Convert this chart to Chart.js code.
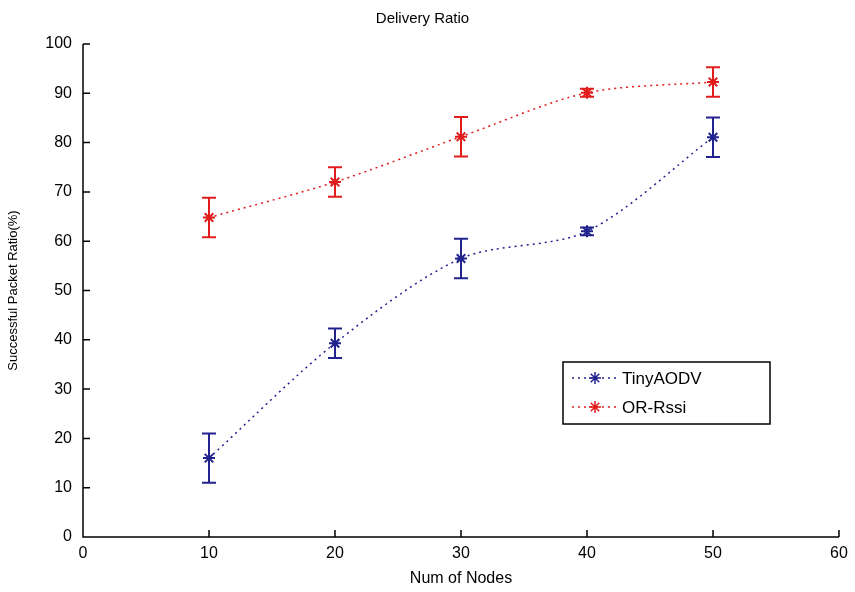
<!DOCTYPE html>
<html>
<head>
<meta charset="utf-8">
<script src="https://cdn.jsdelivr.net/npm/chart.js@4"></script>
<style>
  html, body { margin: 0; padding: 0; background: #fff; }
  #wrap { width: 855px; height: 592px; }
</style>
</head>
<body>
<div id="wrap"><canvas id="chart" width="855" height="592"></canvas></div>
<script>
const nodes = [10, 20, 30, 40, 50];
const tinyAodv = [16, 39.3, 56.5, 62, 81.1];
const tinyAodvErr = [5, 3, 4, 0.8, 4];
const orRssi = [64.8, 72, 81.2, 90.1, 92.3];
const orRssiErr = [4, 3, 4, 0.8, 3];
const yTicks = [0, 10, 20, 30, 40, 50, 60, 70, 80, 90, 100];

const BLUE = "#23238f";
const RED = "#e01c1c";
const FONT = "'Liberation Sans', Arial, sans-serif";

// vertical error bars with caps, drawn from each dataset's errors array
const errorBars = {
  id: "errorBars",
  afterDatasetsDraw(chart) {
    const { ctx, scales } = chart;
    chart.data.datasets.forEach((ds) => {
      ctx.save();
      ctx.strokeStyle = ds.errColor;
      ctx.lineWidth = 2;
      ds.data.forEach((pt, i) => {
        const x = scales.x.getPixelForValue(pt.x);
        const top = scales.y.getPixelForValue(pt.y + ds.errors[i]);
        const bot = scales.y.getPixelForValue(pt.y - ds.errors[i]);
        ctx.beginPath();
        ctx.moveTo(x, top); ctx.lineTo(x, bot);
        ctx.moveTo(x - 7, top); ctx.lineTo(x + 7, top);
        ctx.moveTo(x - 7, bot); ctx.lineTo(x + 7, bot);
        ctx.stroke();
      });
      ctx.restore();
    });
  },
};

// axis lines with inward ticks, left and bottom only
const axesBox = {
  id: "axesBox",
  afterDraw(chart) {
    const { ctx, chartArea: a, scales } = chart;
    ctx.save();
    ctx.strokeStyle = "#000";
    ctx.lineWidth = 1.5;
    ctx.beginPath();
    ctx.moveTo(a.left, a.top); ctx.lineTo(a.left, a.bottom); ctx.lineTo(a.right, a.bottom);
    scales.x.ticks.forEach((t) => {
      const x = scales.x.getPixelForValue(t.value);
      ctx.moveTo(x, a.bottom); ctx.lineTo(x, a.bottom - 7);
    });
    scales.y.ticks.forEach((t) => {
      const y = scales.y.getPixelForValue(t.value);
      ctx.moveTo(a.left, y); ctx.lineTo(a.left + 7, y);
    });
    ctx.stroke();
    ctx.restore();
  },
};

// boxed legend inside the plot area
const boxLegend = {
  id: "boxLegend",
  afterDraw(chart) {
    const { ctx, chartArea: a } = chart;
    const w = 207, h = 62;
    const left = a.right - 69 - w, top = a.top + 318;
    ctx.save();
    ctx.fillStyle = "#fff";
    ctx.fillRect(left, top, w, h);
    ctx.strokeStyle = "#000";
    ctx.lineWidth = 1.5;
    ctx.strokeRect(left, top, w, h);
    chart.data.datasets.forEach((ds, i) => {
      const y = top + 16 + i * 29;
      ctx.strokeStyle = ds.borderColor;
      ctx.lineWidth = 1.5;
      ctx.setLineDash([2, 4]);
      ctx.beginPath();
      ctx.moveTo(left + 9, y); ctx.lineTo(left + 55, y);
      ctx.stroke();
      ctx.setLineDash([]);
      Chart.helpers.drawPoint(ctx, { pointStyle: "star", radius: 6, borderWidth: 2 }, left + 32, y);
      ctx.fillStyle = "#000";
      ctx.font = "17px " + FONT;
      ctx.textBaseline = "middle";
      ctx.fillText(ds.label, left + 59, y + 1);
    });
    ctx.restore();
  },
};

function series(label, ys, errs, color) {
  return {
    label,
    data: nodes.map((x, i) => ({ x, y: ys[i] })),
    errors: errs,
    errColor: color,
    borderColor: color,
    backgroundColor: color,
    borderWidth: 1.5,
    borderDash: [2, 4],
    tension: 0.3,
    pointStyle: "star",
    pointRadius: 6,
    pointBorderWidth: 2,
    pointBorderColor: color,
  };
}

new Chart(document.getElementById("chart"), {
  type: "line",
  data: {
    datasets: [
      series("TinyAODV", tinyAodv, tinyAodvErr, BLUE),
      series("OR-Rssi", orRssi, orRssiErr, RED),
    ],
  },
  options: {
    responsive: false,
    animation: false,
    layout: { padding: { left: 6, right: 16, top: 0, bottom: 4 } },
    scales: {
      x: {
        type: "linear",
        min: 0,
        max: 60,
        ticks: { stepSize: 10, color: "#000", font: { family: FONT, size: 16 }, padding: 7 },
        grid: { display: false, drawTicks: false },
        border: { display: false },
        title: { display: true, text: "Num of Nodes", color: "#000", font: { family: FONT, size: 16 }, padding: { top: 3, bottom: 0 } },
        afterFit: (s) => { s.height = 51; },
      },
      y: {
        min: 0,
        max: 100,
        afterBuildTicks: (s) => { s.ticks = yTicks.map((v) => ({ value: v })); },
        ticks: { color: "#000", font: { family: FONT, size: 16 }, padding: 11 },
        grid: { display: false, drawTicks: false },
        border: { display: false },
        title: { display: true, text: "Successful Packet Ratio(%)", color: "#000", font: { family: FONT, size: 13 }, padding: { top: 0, bottom: 0 } },
        afterFit: (s) => { s.width = 77; },
      },
    },
    plugins: {
      legend: { display: false },
      tooltip: { enabled: false },
      title: {
        display: true,
        text: "Delivery Ratio",
        color: "#000",
        font: { family: FONT, size: 15, weight: "normal" },
        padding: { top: 10, bottom: 16 },
      },
    },
  },
  plugins: [errorBars, axesBox, boxLegend],
});
</script>
</body>
</html>
